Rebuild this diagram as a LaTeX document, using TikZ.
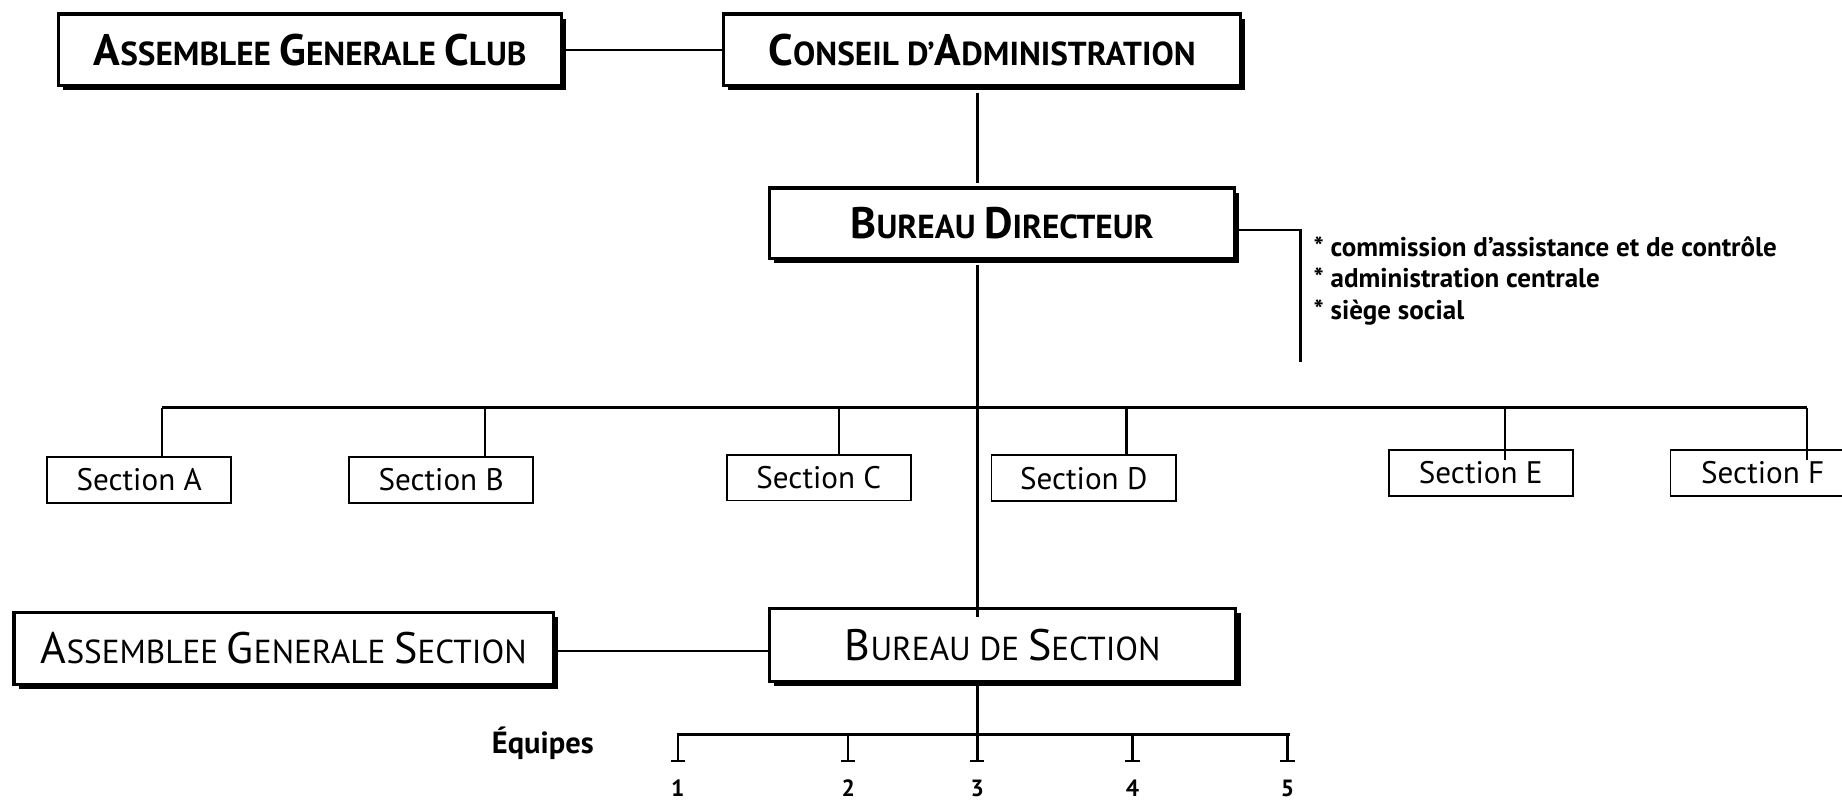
\documentclass[tikz,border=0pt]{standalone}
\usepackage{fontspec}
\setmainfont{PT Sans}
\usetikzlibrary{shadows}
\newcommand\capsc[2]{{\fontsize{37.5}{39}\selectfont #1}{\fontsize{28.3}{31}\selectfont #2}}
\begin{document}
\begin{tikzpicture}[x=1pt,y=-1pt,
  bigbox/.style={draw, line width=2.8pt, fill=white, inner sep=0pt, minimum height=61pt,
    font=\fontsize{28}{31}\selectfont,
    drop shadow={shadow xshift=4pt, shadow yshift=-4pt, fill=black, opacity=1}},
  secbox/.style={draw, line width=1.6pt, fill=white, inner sep=0pt, minimum width=157pt, minimum height=39pt, font=\fontsize{26.5}{28}\selectfont},
  conn/.style={line width=2pt},
  busline/.style={line width=2.8pt},
  listtxt/.style={anchor=west, align=left, inner sep=0pt, font=\fontsize{23}{27}\selectfont\bfseries},
  numtxt/.style={inner sep=0pt, font=\fontsize{20}{22}\selectfont\bfseries}
]
\fill[white] (0,0) rectangle (1568,682);
\useasboundingbox (0,0) rectangle (1568,682);

% main boxes
\node[bigbox, minimum width=428pt] (agc) at (264,42.5) {\bfseries\capsc{A}{SSEMBLEE} \capsc{G}{ENERALE} \capsc{C}{LUB}};
\node[bigbox, minimum width=440pt] (ca) at (836,42.5) {\bfseries\capsc{C}{ONSEIL} \capsc{}{D'}\capsc{A}{DMINISTRATION}};
\node[bigbox, minimum width=396pt, minimum height=60pt] (bd) at (853,190) {\bfseries\capsc{B}{UREAU} \capsc{D}{IRECTEUR}};
\node[bigbox, minimum width=459pt] (ags) at (241.5,552) {\capsc{A}{SSEMBLEE} \capsc{G}{ENERALE} \capsc{S}{ECTION}};
\node[bigbox, minimum width=397pt, minimum height=62pt] (bds) at (853.5,549) {\capsc{B}{UREAU} \capsc{}{DE} \capsc{S}{ECTION}};

% trunk
\coordinate (trunkx) at (832,0);
\coordinate (agsline) at (0,554);
\draw[conn] (agc.east) -- (agc.east -| ca.west);
\draw[conn] ([yshift=-5pt]ca.south -| trunkx) -- ([yshift=3pt]bd.north -| trunkx);
\draw[conn] ([yshift=-4pt]bd.south -| trunkx) -- ([yshift=-9pt]bds.north -| trunkx);
\draw[conn] (ags.east |- agsline) -- (bds.west |- agsline);

% bracket with list
\coordinate (brk) at (1107,196);
\coordinate (brkend) at (1107,308);
\draw[conn] (bd.east |- brk) -- (brk) -- (brkend);
\node[listtxt] (list) at (1118,239) {* commission d'assistance et de contrôle\\* administration centrale\\* siège social};

% sections
\node[secbox] (sa) at (118.5,408.5) {Section A};
\node[secbox] (sb) at (375.5,408.5) {Section B};
\node[secbox] (sc) at (697,406.5) {Section C};
\node[secbox] (sd) at (922.5,407) {Section D};
\node[secbox] (se) at (1260.5,402.5) {Section E};
\node[secbox] (sf) at (1500.5,402.5) {Section F};

\coordinate (da) at (138,347);
\coordinate (db) at (413,347);
\coordinate (dc) at (714,347);
\coordinate (dd) at (959,347);
\coordinate (de) at (1281,347);
\coordinate (df) at (1538,347);
\draw[busline] (da) -- (df);
\draw[conn] (da) -- (da |- sa.north);
\draw[conn] (db) -- (db |- sb.north);
\draw[conn] (dc) -- (dc |- sc.north);
\draw[conn] (dd) -- (dd |- sd.north);
\draw[conn] (de) -- ([yshift=-9pt]de |- se.north);
\draw[conn] (df) -- ([yshift=-9pt]df |- sf.north);

% equipes
\node[inner sep=0pt, font=\fontsize{26}{28}\selectfont\bfseries] (eq) at (462,633) {Équipes};
\coordinate (e1) at (577,625);
\coordinate (e2) at (722,625);
\coordinate (e3) at (832,625);
\coordinate (e4) at (964,625);
\coordinate (e5) at (1096,625);
\draw[conn] (bds.south -| trunkx) -- (e3);
\draw[busline, line width=2.4pt] ([xshift=-1pt]e1) -- ([xshift=2pt]e5);
\foreach \i in {1,...,5}{
  \draw[conn] (e\i) -- ++(0,23);
  \draw[conn] ([xshift=-6pt,yshift=-23pt]e\i) -- ++(12,0);
}
\node[numtxt] (n1) at (577,671) {1};
\node[numtxt] (n2) at (722,671) {2};
\node[numtxt] (n3) at (832,671) {3};
\node[numtxt] (n4) at (964,671) {4};
\node[numtxt] (n5) at (1096,671) {5};
\end{tikzpicture}
\end{document}
